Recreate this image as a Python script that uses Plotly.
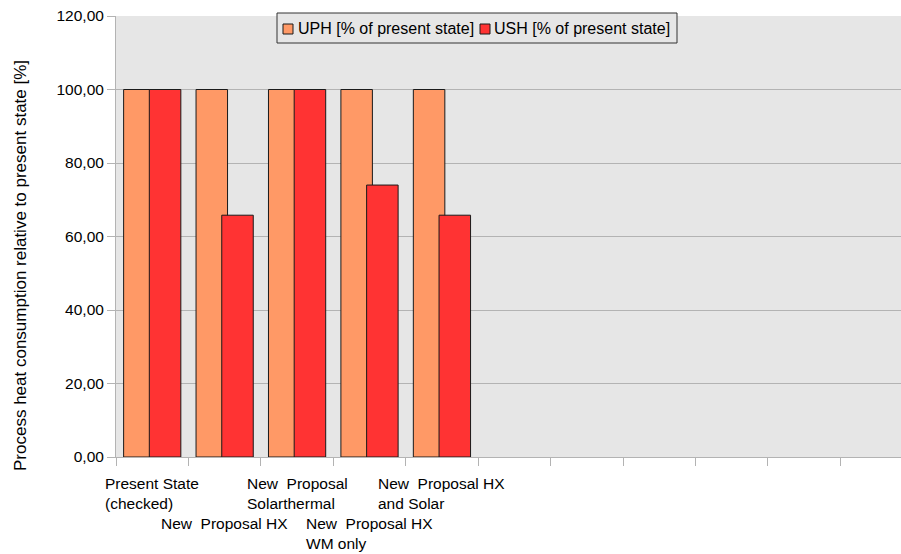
import plotly.graph_objects as go

# Scenario slots (numeric positions) and their wrapped labels
positions = [0, 1, 2, 3, 4]
labels = [
    "Present State<br>(checked)",
    "New\u00a0 Proposal HX",
    "New\u00a0 Proposal<br>Solarthermal",
    "New\u00a0 Proposal HX<br>WM only",
    "New\u00a0 Proposal HX<br>and Solar",
]
uph = [100.0, 100.0, 100.0, 100.0, 100.0]
ush = [100.0, 65.8, 100.0, 74.0, 65.8]

series_names = ["UPH [% of present state]", "USH [% of present state]"]
series_colors = ["#ff9966", "#ff3333"]
y_ticks = [0, 20, 40, 60, 80, 100, 120]

FONT = "Liberation Sans, Arial, sans-serif"
GRID = "#b3b3b3"
OUTLINE = "#1a1a1a"

# Plot area in pixels (for placing the legend box and side title)
L, R, T, B = 116, 901, 16, 457


def px(xp):
    return (xp - L) / (R - L)


def py(yp):
    return (B - yp) / (B - T)


fig = go.Figure()
fig.add_trace(go.Bar(
    x=positions, y=uph, name=series_names[0],
    width=0.435, offset=-0.395, showlegend=False,
    marker=dict(color=series_colors[0], line=dict(color=OUTLINE, width=1)),
))
fig.add_trace(go.Bar(
    x=positions, y=ush, name=series_names[1],
    width=0.435, offset=-0.04, showlegend=False,
    marker=dict(color=series_colors[1], line=dict(color=OUTLINE, width=1)),
))

# Category labels, staggered on two rows
annotations = []
for i, (p, lab) in enumerate(zip(positions, labels)):
    annotations.append(dict(
        x=p, xref="x", y=0, yref="paper",
        yanchor="top", xanchor="center", align="left",
        yshift=-16 if i % 2 == 0 else -56,
        text=lab, showarrow=False,
        font=dict(family=FONT, size=15.5, color="#000"),
    ))

annotations.append(dict(
    x=0, xref="paper", xshift=-96, y=py(266), yref="paper",
    xanchor="center", yanchor="middle", textangle=-90,
    text="Process heat consumption relative to present state [%]",
    showarrow=False, font=dict(family=FONT, size=17, color="#000"),
))

# Legend: framed box with two swatches
shapes = [dict(
    type="rect", xref="paper", yref="paper", layer="above",
    x0=px(277), x1=px(677), y0=py(43), y1=py(13),
    fillcolor="#e6e6e6", line=dict(color="#333333", width=1),
)]
for sx, tx, name, col in zip([283, 480], [296, 492], series_names, series_colors):
    shapes.append(dict(
        type="rect", xref="paper", yref="paper", layer="above",
        x0=px(sx), x1=px(sx + 10), y0=py(34), y1=py(24),
        fillcolor=col, line=dict(color=OUTLINE, width=1),
    ))
    annotations.append(dict(
        x=px(tx), xref="paper", y=py(29), yref="paper",
        xanchor="left", yanchor="middle", text=name, showarrow=False,
        font=dict(family=FONT, size=16, color="#000"),
    ))

boundaries = [k - 0.5 for k in range(12)]

fig.update_layout(
    width=901, height=554,
    margin=dict(l=L, r=901 - R, t=T, b=554 - B),
    paper_bgcolor="white", plot_bgcolor="#e6e6e6",
    barmode="overlay",
    separators=",.",
    font=dict(family=FONT, size=15.5, color="#000"),
    showlegend=False,
    xaxis=dict(
        range=[-0.5, 10.338], showgrid=False, zeroline=False,
        tickmode="array", tickvals=boundaries, ticktext=[""] * len(boundaries),
        ticks="outside", ticklen=8, tickcolor=GRID, tickwidth=1,
        showline=True, linecolor=GRID, linewidth=1,
    ),
    yaxis=dict(
        range=[0, 120], tickmode="array", tickvals=y_ticks, tickformat=".2f",
        showgrid=True, gridcolor=GRID, gridwidth=1, zeroline=False,
        ticks="outside", ticklen=8, tickcolor=GRID, tickwidth=1,
        showline=True, linecolor=GRID, linewidth=1,
        tickfont=dict(family=FONT, size=15.5, color="#000"),
    ),
    shapes=shapes,
    annotations=annotations,
)

fig.write_html("out.html")
